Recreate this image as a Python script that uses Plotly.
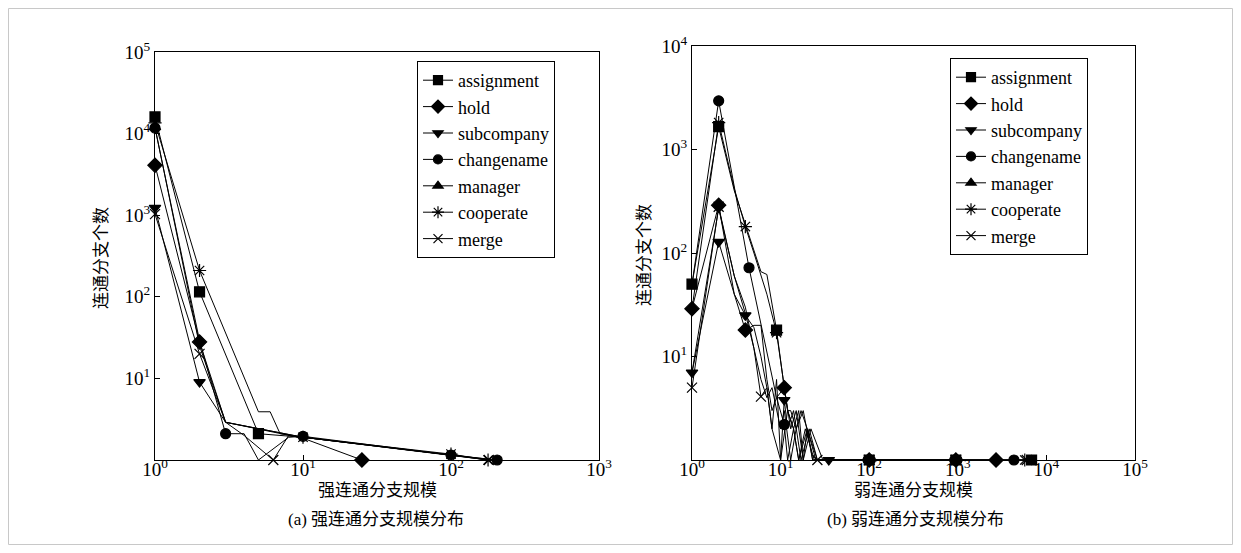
import plotly.graph_objects as go

# ---------------- data ----------------
SERIES = ["assignment", "hold", "subcompany", "changename", "manager", "cooperate", "merge"]

# (a) strongly connected component size distribution
L_ASSIGN_X = [1, 2, 5, 10, 100, 180]
L_ASSIGN_Y = [16000, 115, 2.1, 1.9, 1.15, 1]
L_HOLD_X = [1, 2, 3, 10, 25]
L_HOLD_Y = [4100, 28, 2.9, 1.85, 1]
L_SUB_X = [1, 2, 3, 10, 100, 180]
L_SUB_Y = [1230, 9, 2.9, 1.9, 1.15, 1]
L_CHANGE_X = [1, 2, 3, 4, 5, 8, 10, 100, 205]
L_CHANGE_Y = [11700, 29, 2.1, 2.1, 1, 1.9, 1.95, 1.15, 1]
L_MANAGER_X = [1, 2, 3, 10, 100, 200]
L_MANAGER_Y = [12000, 25, 2.9, 1.9, 1.15, 1]
L_COOP_X = [1, 2, 5, 6, 7, 10, 100, 178]
L_COOP_Y = [13500, 210, 3.9, 3.9, 2.1, 1.9, 1.18, 1]
L_MERGE_X = [1, 2, 3, 4, 6.3, 8, 10, 100, 180]
L_MERGE_Y = [1030, 20, 2.9, 2, 1, 2, 1.9, 1.15, 1]

# (b) weakly connected component size distribution
R_ASSIGN_X = [1, 2, 3, 4, 5, 6, 7, 9, 11, 12, 13, 15, 17, 20, 25, 30, 100, 950, 6800]
R_ASSIGN_Y = [50, 1660, 400, 190, 110, 66, 62, 18, 5, 3, 3, 2, 3, 2, 1, 1, 1, 1, 1]
R_HOLD_X = [1, 2, 3, 4, 5, 6, 7, 8, 9, 11, 13, 15, 18, 22, 30, 100, 950, 2700]
R_HOLD_Y = [29, 290, 40, 18, 20, 20, 6, 3, 4, 5, 2, 3, 1, 2, 1, 1, 1, 1]
R_SUB_X = [1, 2, 3, 4, 5, 6, 7, 8, 10, 11, 12, 14, 17, 21, 26, 35, 100, 950]
R_SUB_Y = [7, 128, 40, 25, 19, 10, 5, 2, 1, 3.8, 2, 3, 1, 2, 1, 1, 1, 1]
R_CHANGE_X = [1, 2, 4.4, 6, 8, 9, 11, 12, 14, 16, 19, 24, 100, 950, 4300]
R_CHANGE_Y = [50, 2950, 72, 20, 6, 4, 2.2, 1, 2, 1, 2, 1, 1, 1, 1]
R_MANAGER_X = [1, 2, 3, 4, 5, 6, 7, 8, 10, 11, 13, 15, 18, 23, 30, 100, 950]
R_MANAGER_Y = [7, 270, 60, 30, 12, 6, 4, 5, 2, 3, 1, 2, 3, 1, 1, 1, 1]
R_COOP_X = [1, 2, 3, 4, 5, 6, 7, 9, 11, 12, 14, 16, 18, 20, 23, 28, 100, 950, 5700]
R_COOP_Y = [29, 1820, 420, 180, 100, 60, 40, 17, 5, 3, 2, 3, 1, 2, 1, 1, 1, 1, 1]
R_MERGE_X = [1, 2, 3, 4, 5, 6, 7, 8, 9, 10, 12, 14, 16, 20, 26, 100, 950, 6000]
R_MERGE_Y = [5, 280, 60, 26, 12, 4.1, 5, 2, 6, 1, 3, 2, 1, 2, 1, 1, 1, 1]

X_LEFT_TICKS = [1, 10, 100, 1000]
X_LEFT_TEXT = ["10<sup>0</sup>", "10<sup>1</sup>", "10<sup>2</sup>", "10<sup>3</sup>"]
Y_LEFT_TICKS = [10, 100, 1000, 10000, 100000]
Y_LEFT_TEXT = ["10<sup>1</sup>", "10<sup>2</sup>", "10<sup>3</sup>", "10<sup>4</sup>", "10<sup>5</sup>"]
X_RIGHT_TICKS = [1, 10, 100, 1000, 10000, 100000]
X_RIGHT_TEXT = ["10<sup>0</sup>", "10<sup>1</sup>", "10<sup>2</sup>", "10<sup>3</sup>",
                "10<sup>4</sup>", "10<sup>5</sup>"]
Y_RIGHT_TICKS = [10, 100, 1000, 10000]
Y_RIGHT_TEXT = ["10<sup>1</sup>", "10<sup>2</sup>", "10<sup>3</sup>", "10<sup>4</sup>"]

# ---------------- style ----------------
SYMBOLS = ["square", "diamond", "triangle-down", "circle", "triangle-up", "asterisk-open", "x-thin-open"]
MSIZE = [10, 11, 10, 10, 10, 11, 10]
# sizes at which a marker is drawn (others are plain line vertices)
L_MARKS = [
    {1, 2, 5},
    {1, 2, 25},
    {1, 2},
    {1, 3, 10, 100, 205},
    {1},
    {1, 2, 10, 100, 178},
    {1, 2, 6.3, 180},
]
R_MARKS = [
    {1, 2, 9, 100, 950, 6800},
    {1, 2, 4, 11, 100, 950, 2700},
    {1, 2, 4, 11, 35, 100, 950},
    {2, 4.4, 11, 100, 950, 4300},
    {100, 950},
    {2, 4, 9, 100, 950, 5700},
    {1, 2, 6, 26, 100, 950, 6000},
]

left_data = [(L_ASSIGN_X, L_ASSIGN_Y), (L_HOLD_X, L_HOLD_Y), (L_SUB_X, L_SUB_Y),
             (L_CHANGE_X, L_CHANGE_Y), (L_MANAGER_X, L_MANAGER_Y), (L_COOP_X, L_COOP_Y),
             (L_MERGE_X, L_MERGE_Y)]
right_data = [(R_ASSIGN_X, R_ASSIGN_Y), (R_HOLD_X, R_HOLD_Y), (R_SUB_X, R_SUB_Y),
              (R_CHANGE_X, R_CHANGE_Y), (R_MANAGER_X, R_MANAGER_Y), (R_COOP_X, R_COOP_Y),
              (R_MERGE_X, R_MERGE_Y)]

fig = go.Figure()
LINE = dict(color="black", width=1)


def add_panel(data, marks, xa, ya, legend_name):
    for i, (xs, ys) in enumerate(data):
        fig.add_trace(go.Scatter(x=xs, y=ys, mode="lines", line=LINE, xaxis=xa, yaxis=ya,
                                 showlegend=False, cliponaxis=False, hoverinfo="skip"))
        mx = [x for x in xs if x in marks[i]]
        my = [y for x, y in zip(xs, ys) if x in marks[i]]
        fig.add_trace(go.Scatter(x=mx, y=my, mode="markers", xaxis=xa, yaxis=ya,
                                 marker=dict(symbol=SYMBOLS[i], size=MSIZE[i], color="black",
                                             line=dict(color="black", width=1.2)),
                                 showlegend=False, cliponaxis=False))
    for i, name in enumerate(SERIES):
        fig.add_trace(go.Scatter(x=[None], y=[None], mode="lines+markers", name=name,
                                 xaxis=xa, yaxis=ya, line=LINE, legend=legend_name,
                                 marker=dict(symbol=SYMBOLS[i], size=MSIZE[i] - 1, color="black",
                                             line=dict(color="black", width=1.2))))


add_panel(left_data, L_MARKS, "x", "y", "legend")
add_panel(right_data, R_MARKS, "x2", "y2", "legend2")

SERIF = "Liberation Serif"
CJK = "Liberation Serif, Noto Sans CJK SC"
TICKFONT = dict(family=SERIF, size=19, color="black")

axis_common = dict(type="log", showgrid=False, zeroline=False, showline=True, linecolor="black",
                   linewidth=1, mirror=True, ticks="inside", ticklen=5, tickcolor="black",
                   tickwidth=1, tickfont=TICKFONT, tickmode="array")

# the page adds an 8 px body margin, so the figure is drawn 8 px in from the window corner
OFF = 8
W, H = 1233, 545
ML, MR, MT, MB = 147, 106, 38, 93
PW = W - ML - MR
PH = H - MT - MB


def px(xs):  # window pixel -> paper x
    return (xs - OFF - ML) / PW


def py(ys):  # window pixel -> paper y
    return (H - MB - (ys - OFF)) / PH


legend_common = dict(bgcolor="white", bordercolor="black", borderwidth=1,
                     font=dict(family=SERIF, size=18, color="black"),
                     xanchor="left", yanchor="top", tracegroupgap=0, itemwidth=30)

fig.update_layout(
    width=W, height=H, margin=dict(l=ML, r=MR, t=MT, b=MB),
    paper_bgcolor="white", plot_bgcolor="white",
    xaxis=dict(domain=[0, px(599)], range=[0, 3], tickvals=X_LEFT_TICKS, ticktext=X_LEFT_TEXT,
               anchor="y", ticklabelstandoff=-8, **axis_common),
    yaxis=dict(domain=[0, py(52)], range=[0, 5], tickvals=Y_LEFT_TICKS, ticktext=Y_LEFT_TEXT,
               anchor="x", **axis_common),
    xaxis2=dict(domain=[px(692), 1], range=[0, 5], tickvals=X_RIGHT_TICKS, ticktext=X_RIGHT_TEXT,
                anchor="y2", ticklabelstandoff=-8, **axis_common),
    yaxis2=dict(domain=[0, 1], range=[0, 4], tickvals=Y_RIGHT_TICKS, ticktext=Y_RIGHT_TEXT,
                anchor="x2", **axis_common),
    legend=dict(x=px(417), y=py(61), **legend_common),
    legend2=dict(x=px(950), y=py(58), **legend_common),
    showlegend=True,
)

ann_font = dict(family=CJK, size=17, color="black")
annotations = [
    dict(text="连通分支个数", x=px(101), y=py(258), textangle=-90),
    dict(text="连通分支个数", x=px(644), y=py(255), textangle=-90),
    dict(text="强连通分支规模", x=px(377), y=py(490)),
    dict(text="弱连通分支规模", x=px(913), y=py(490)),
    dict(text="(a) 强连通分支规模分布", x=px(376), y=py(519)),
    dict(text="(b) 弱连通分支规模分布", x=px(915), y=py(519)),
]
for a in annotations:
    fig.add_annotation(xref="paper", yref="paper", showarrow=False, font=ann_font,
                       xanchor="center", yanchor="middle", **a)

fig.add_shape(type="rect", xref="paper", yref="paper", x0=px(8.5), x1=px(1232.5),
              y0=py(544.5), y1=py(8.5), line=dict(color="#c8c8c8", width=1), layer="below")

fig.write_html("out.html")
